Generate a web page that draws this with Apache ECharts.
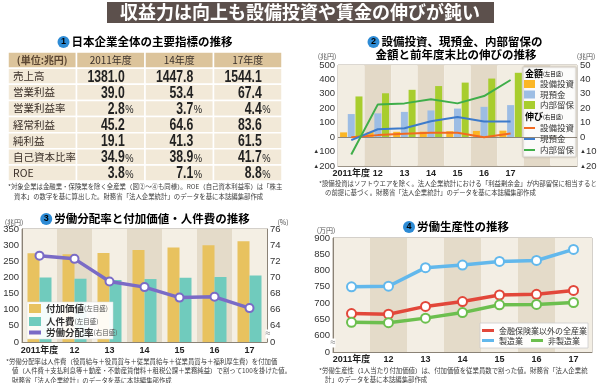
<!DOCTYPE html>
<html><head><meta charset="utf-8">
<script src="https://cdn.jsdelivr.net/npm/echarts@6/dist/echarts.min.js"></script>
<style>html,body{margin:0;padding:0;background:#fff}#c{width:600px;height:383px}</style>
</head><body><div id="c"></div><script>
const JP = "'Noto Sans CJK JP', sans-serif";
const NUM = "'Liberation Sans','Noto Sans CJK JP',sans-serif";

// ---- Table (chart 1) ----
const tableHeader = ['(単位:兆円)', '2011年度', '14年度', '17年度'];
const tableRows = ['売上高', '営業利益', '営業利益率', '経常利益', '純利益', '自己資本比率', 'ROE'];
const fy2011 = [1381.0, 39.0, 2.8, 45.2, 19.1, 34.9, 3.8];
const fy2014 = [1447.8, 53.4, 3.7, 64.6, 41.3, 38.9, 7.1];
const fy2017 = [1544.1, 67.4, 4.4, 83.6, 61.5, 41.7, 8.8];
const rowUnits = ['', '', '%', '', '', '%', '%'];

// ---- Chart 2 ----
const years2 = ['2011年度', '12', '13', '14', '15', '16', '17', '', ''];
const capexAmt = [33, 35, 37, 38, 41, 43, 45];
const cashAmt = [160, 165, 175, 185, 198, 210, 222];
const retainedAmt = [282, 304, 328, 354, 378, 406, 446];
const capexGrowth = [0, 1.4, 2.3, 3.0, 3.0, 0.0, 2.6];
const cashGrowth = [-2.1, 5.5, 6.2, 11.0, 13.9, 10.9, 10.9];
const retainedGrowth = [-12.0, 22.7, 23.4, 26.2, 23.4, 28.5, 39.6];

// ---- Chart 3 ----
const years = ['2011年度', '12', '13', '14', '15', '16', '17'];
const valueAdded = [275, 272, 276, 285, 293, 300, 312];
const laborCost = [200, 196, 192, 195, 199, 201, 206];
const laborShare = [72.7, 72.3, 69.5, 68.8, 67.5, 67.6, 66.2];

// ---- Chart 4 ----
const allIndustry = [668, 666, 690, 705, 725, 727, 739];
const manufacturing = [750, 752, 809, 817, 828, 831, 865];
const nonManufacturing = [641, 640, 654, 671, 695, 696, 702];

const notes1 = ['*対象企業は金融業・保険業を除く全産業（図②〜④も同様）。ROE（自己資本利益率）は「株主', '資本」の数字を基に算出した。財務省「法人企業統計」のデータを基に本誌編集部作成'];
const notes2 = ['*設備投資はソフトウエアを除く。法人企業統計における「利益剰余金」が内部留保に相当すると', 'の前提に基づく。財務省「法人企業統計」のデータを基に本誌編集部作成'];
const notes3 = ['*労働分配率は人件費（役員給与＋役員賞与＋従業員給与＋従業員賞与＋福利厚生費）を付加価', '値（人件費＋支払利息等＋動産・不動産賃借料＋租税公課＋業務純益）で割って100を掛けた値。', '財務省「法人企業統計」のデータを基に本誌編集部作成'];
const notes4 = ['*労働生産性（1人当たり付加価値）は、付加価値を従業員数で割った値。財務省「法人企業統', '計」のデータを基に本誌編集部作成'];

const C = {
  bOrange: '#fbb625', bBlue: '#9dbde4', bGreen: '#a8cd2e',
  lOrange: '#f26a21', lBlue: '#3d7bcb', lGreen: '#3fae49',
  gold: '#e8c25f', teal: '#70cbbd', purple: '#7a6bc6',
  red: '#e2473a', sky: '#62b8ec', green4: '#6cbf4e'
};

const chart = echarts.init(document.getElementById('c'), null, {renderer: 'canvas', width: 600, height: 383});

const cells = [];
for (let r = 0; r <= tableRows.length; r++) for (let c = 0; c < tableHeader.length; c++) cells.push([c, r]);

function renderCell(params, api) {
  const c = api.value(0), r = api.value(1);
  const p = api.coord([c, r]);
  const s = api.size([1, 1]);
  const x0 = p[0] - s[0] / 2, y0 = p[1] - s[1] / 2;
  const children = [{
    type: 'rect', shape: {x: x0, y: y0, width: s[0], height: s[1]},
    style: {fill: r === 0 ? '#dcc49b' : '#f2e9d8', stroke: '#fff', lineWidth: 1.5}
  }];
  function txt(text, x, y, align, font, fill, sx) {
    return {type: 'text', x, y, scaleX: sx || 1, style: {text, x: 0, y: 0, align, textAlign: align, verticalAlign: 'middle', textVerticalAlign: 'middle', font, fill}};
  }
  if (r === 0) {
    children.push(txt(tableHeader[c], p[0], p[1], 'center', (c === 0 ? 'bold ' : '') + '10px ' + JP, c === 0 ? '#5b4632' : '#3a302a'));
  } else if (c === 0) {
    children.push(txt(tableRows[r - 1], x0 + 5, p[1], 'left', '10.5px ' + JP, '#3a2f28'));
  } else {
    const v = [fy2011, fy2014, fy2017][c - 1][r - 1];
    const unit = rowUnits[r - 1];
    const xr = p[0] + 14;
    children.push(txt(v.toFixed(1), xr, p[1] + 1, 'right', 'bold 16.5px ' + NUM, '#222', 0.74));
    if (unit) children.push(txt(unit, xr + 0.5, p[1] + 2, 'left', '11px ' + NUM, '#222', 0.85));
  }
  return {type: 'group', children};
}

function titleEl(n, text, x, y) {
  return {type: 'text', x, y, z: 10, style: {
    text: (n ? '{n|' + n + '}{s| }' : '') + '{t|' + text + '}',
    align: 'center', textAlign: 'center', verticalAlign: 'middle', textVerticalAlign: 'middle',
    rich: {
      n: {backgroundColor: '#2d8bd5', borderRadius: 6, width: 12, height: 12, lineHeight: 12, align: 'center', color: '#fff', fontSize: 9, fontWeight: 'bold', fontFamily: NUM},
      s: {fontSize: 4, width: 2},
      t: {fontSize: 11.5, fontWeight: 'bold', color: '#3a2e2a', fontFamily: JP}
    }
  }};
}
function noteEls(lines, x, y, lh) {
  return lines.map((l, i) => ({type: 'text', x: i === 0 ? x : x + 6, y: y + i * lh, style: {text: l, font: '6.4px ' + JP, fill: '#3a3a3a', verticalAlign: 'middle', textVerticalAlign: 'middle'}}));
}
function smallText(t, x, y, align) {
  return {type: 'text', x, y, style: {text: t, font: '7px ' + JP, fill: '#555', align: align || 'center', textAlign: align || 'center', verticalAlign: 'middle', textVerticalAlign: 'middle'}};
}
const neg = (v) => v < 0 ? '{t|▲}' + (-v) : '' + v;
const axLbl = {fontSize: 9.5, color: '#333', fontFamily: NUM};
const xLbl = {fontSize: 9, color: '#222', fontFamily: NUM, fontWeight: 'bold', interval: 0};

const hdrRich = {a: {fontSize: 9, fontWeight: 'bold', fontFamily: JP, color: '#333'}, b: {fontSize: 5.5, fontFamily: JP, color: '#666'}};

const graphics = [
  {type: 'rect', shape: {x: 107, y: 2, width: 387, height: 21}, style: {fill: '#5c504c'}},
  {type: 'text', x: 300, y: 12.5, style: {text: '収益力は向上も設備投資や賃金の伸びが鈍い', font: 'bold 18px ' + JP, fill: '#fff', align: 'center', textAlign: 'center', verticalAlign: 'middle', textVerticalAlign: 'middle'}},
  titleEl('1', '日本企業全体の主要指標の推移', 145, 42),
  titleEl('2', '設備投資、現預金、内部留保の', 455, 42),
  titleEl(null, '金額と前年度末比の伸びの推移', 456, 55),
  titleEl('3', '労働分配率と付加価値・人件費の推移', 145, 219),
  titleEl('4', '労働生産性の推移', 456, 227),
  smallText('(兆円)', 327, 56), smallText('(兆円)', 586, 56),
  smallText('(兆円)', 14, 222), smallText('(%)', 283, 222),
  smallText('(万円)', 326, 230),
  ...noteEls(notes1, 8, 187, 9.5),
  ...noteEls(notes2, 319, 183.5, 9.5),
  ...noteEls(notes3, 6, 361.5, 9.3),
  ...noteEls(notes4, 319, 371, 9),
  // legend boxes
  {type: 'rect', z: 3, shape: {x: 523, y: 67, width: 53, height: 90}, style: {fill: 'rgba(255,255,255,0.93)', stroke: '#d6d0c6', lineWidth: 1, shadowBlur: 2, shadowColor: 'rgba(0,0,0,0.15)'}},
  {type: 'text', z: 5, x: 525, y: 73.5, style: {text: '{a|金額}{b|(左目盛)}', rich: hdrRich, verticalAlign: 'middle', textVerticalAlign: 'middle'}},
  {type: 'text', z: 5, x: 525, y: 117, style: {text: '{a|伸び}{b|(右目盛)}', rich: hdrRich, verticalAlign: 'middle', textVerticalAlign: 'middle'}},
  {type: 'rect', z: 3, shape: {x: 27, y: 302, width: 86, height: 37}, style: {fill: 'rgba(255,255,255,0.93)', stroke: '#ddd', lineWidth: 0.5}},
  {type: 'rect', z: 3, shape: {x: 480, y: 323, width: 108, height: 25}, style: {fill: 'rgba(255,255,255,0.93)', stroke: '#ccc', lineWidth: 0.8}},
  // axis break marks
  {type: 'text', z: 10, x: 268, y: 334, style: {text: '≈', font: '9px ' + NUM, fill: '#777', align: 'center', textAlign: 'center', verticalAlign: 'middle', textVerticalAlign: 'middle', backgroundColor: '#fff'}},
  {type: 'text', z: 10, x: 333, y: 343, style: {text: '≈', font: '9px ' + NUM, fill: '#777', align: 'center', textAlign: 'center', verticalAlign: 'middle', textVerticalAlign: 'middle', backgroundColor: '#fff'}}
];

const legendRich = {a: {fontSize: 9.5, fontWeight: 'bold', fontFamily: JP, color: '#333'}, b: {fontSize: 6.5, fontFamily: JP, color: '#555'}};
const axisNote = {'付加価値': '(左目盛)', '人件費': '(左目盛)', '労働分配率': '(右目盛)'};

const option = {
  animation: false,
  backgroundColor: '#fff',
  graphic: {elements: graphics},
  grid: [
    {left: 8, top: 52, width: 274, height: 129},
    {left: 338, top: 65, width: 239, height: 101, show: true, borderColor: '#b9b1a4', borderWidth: 1, backgroundColor: 'transparent'},
    {left: 22, top: 229, width: 245, height: 113, show: true, borderColor: '#a9a195', borderWidth: 1},
    {left: 333, top: 238, width: 259, height: 114, show: true, borderColor: '#a9a195', borderWidth: 1}
  ],
  xAxis: [
    {gridIndex: 0, type: 'category', data: tableHeader, show: false},
    {gridIndex: 1, type: 'category', data: years2, axisTick: {show: false}, axisLine: {onZero: false, lineStyle: {color: '#9a9286'}}, axisLabel: Object.assign({margin: 3}, xLbl), splitArea: {show: true, areaStyle: {color: ['#f2ede2', '#e3d9c7']}}},
    {gridIndex: 2, type: 'category', data: years, axisTick: {show: false}, axisLine: {lineStyle: {color: '#8a8276'}}, axisLabel: Object.assign({margin: 4}, xLbl), splitArea: {show: true, areaStyle: {color: ['#f4efe4', '#e4dbc9']}}},
    {gridIndex: 3, type: 'category', data: years, axisTick: {show: false}, axisLine: {lineStyle: {color: '#8a8276'}}, axisLabel: Object.assign({margin: 3}, xLbl), splitArea: {show: true, areaStyle: {color: ['#f3eee4', '#e4dbc9']}}}
  ],
  yAxis: [
    {gridIndex: 0, type: 'category', data: ['header'].concat(tableRows), inverse: true, show: false},
    {gridIndex: 1, type: 'value', min: -200, max: 500, interval: 100, splitLine: {show: false}, axisLine: {show: false}, axisTick: {show: false}, axisLabel: Object.assign({margin: 3, formatter: neg, rich: {t: {fontSize: 6, color: '#333'}}}, axLbl)},
    {gridIndex: 1, type: 'value', position: 'right', min: -20, max: 50, interval: 10, splitLine: {show: false}, axisLine: {show: false}, axisTick: {show: false}, axisLabel: Object.assign({margin: 3, formatter: neg, rich: {t: {fontSize: 6, color: '#333'}}}, axLbl)},
    {gridIndex: 2, type: 'value', min: 0, max: 350, interval: 50, splitLine: {lineStyle: {color: '#c6bead'}}, axisLine: {show: true, lineStyle: {color: '#8a8276'}}, axisTick: {show: false}, axisLabel: Object.assign({margin: 3}, axLbl)},
    {gridIndex: 2, type: 'value', position: 'right', min: 62, max: 76, interval: 2, splitLine: {show: false}, axisLine: {show: true, lineStyle: {color: '#8a8276'}}, axisTick: {show: false}, axisLabel: Object.assign({margin: 3, formatter: (v) => v === 62 ? '0' : '' + v}, axLbl)},
    {gridIndex: 3, type: 'value', min: 550, max: 900, interval: 50, splitLine: {lineStyle: {color: '#c6bead'}}, axisLine: {show: true, lineStyle: {color: '#8a8276'}}, axisTick: {show: false}, axisLabel: Object.assign({margin: 3, formatter: (v) => v === 550 ? '0' : '' + v}, axLbl)}
  ],
  legend: [
    {left: 524, top: 79, orient: 'vertical', itemWidth: 11, itemHeight: 8, itemGap: 0.5, padding: 0, icon: 'rect', z: 6,
      data: ['設備投資', '現預金', '内部留保'], textStyle: {fontSize: 8.5, lineHeight: 10, fontFamily: JP, color: '#333'}},
    {left: 524, top: 123, orient: 'vertical', itemWidth: 11, itemHeight: 2, itemGap: 1, padding: 0, icon: 'rect', z: 6,
      data: ['設備投資(伸び)', '現預金(伸び)', '内部留保(伸び)'], formatter: (n) => n.replace('(伸び)', ''), textStyle: {fontSize: 8.5, lineHeight: 10, fontFamily: JP, color: '#333'}},
    {left: 29, top: 303, orient: 'vertical', itemWidth: 12, itemHeight: 9, itemGap: 2, padding: 0, icon: 'rect', z: 6,
      data: ['付加価値', '人件費'], formatter: (n) => '{a|' + n + '}{b|' + axisNote[n] + '}', textStyle: {lineHeight: 11, rich: legendRich}},
    {left: 29, top: 327, orient: 'vertical', itemWidth: 12, itemHeight: 4, padding: 0, icon: 'rect', z: 6,
      data: ['労働分配率'], formatter: (n) => '{a|' + n + '}{b|' + axisNote[n] + '}', textStyle: {lineHeight: 11, rich: legendRich}},
    {left: 482, top: 326, orient: 'horizontal', itemWidth: 12, itemHeight: 3, padding: 0, icon: 'rect', z: 6,
      data: ['金融保険業以外の全産業'], textStyle: {fontSize: 8, lineHeight: 9, fontFamily: JP, color: '#333'}},
    {left: 482, top: 336, orient: 'horizontal', itemWidth: 12, itemHeight: 3, itemGap: 8, padding: 0, icon: 'rect', z: 6,
      data: ['製造業', '非製造業'], textStyle: {fontSize: 8, lineHeight: 9, fontFamily: JP, color: '#333'}}
  ],
  series: [
    {type: 'custom', xAxisIndex: 0, yAxisIndex: 0, data: cells, renderItem: renderCell, encode: {x: 0, y: 1}, silent: true},
    // chart 2 bars
    {name: '設備投資', type: 'bar', xAxisIndex: 1, yAxisIndex: 1, data: capexAmt, barWidth: 7, barGap: '10%', itemStyle: {color: C.bOrange},
      markLine: {silent: true, symbol: 'none', label: {show: false}, lineStyle: {color: '#8d857a', width: 1, type: 'solid'}, data: [{yAxis: 0}]}},
    {name: '現預金', type: 'bar', xAxisIndex: 1, yAxisIndex: 1, data: cashAmt, barWidth: 7, barGap: '10%', itemStyle: {color: C.bBlue}},
    {name: '内部留保', type: 'bar', xAxisIndex: 1, yAxisIndex: 1, data: retainedAmt, barWidth: 7, barGap: '10%', itemStyle: {color: C.bGreen}},
    // chart 2 lines
    {name: '設備投資(伸び)', type: 'line', xAxisIndex: 1, yAxisIndex: 2, data: capexGrowth, symbol: 'none', z: 5, itemStyle: {color: C.lOrange}, lineStyle: {width: 2, color: C.lOrange}},
    {name: '現預金(伸び)', type: 'line', xAxisIndex: 1, yAxisIndex: 2, data: cashGrowth, symbol: 'none', z: 5, itemStyle: {color: C.lBlue}, lineStyle: {width: 2, color: C.lBlue}},
    {name: '内部留保(伸び)', type: 'line', xAxisIndex: 1, yAxisIndex: 2, data: retainedGrowth, symbol: 'none', z: 5, itemStyle: {color: C.lGreen}, lineStyle: {width: 2, color: C.lGreen}},
    // chart 3
    {name: '付加価値', type: 'bar', xAxisIndex: 2, yAxisIndex: 3, data: valueAdded, barWidth: 12, barGap: '0%', itemStyle: {color: C.gold}},
    {name: '人件費', type: 'bar', xAxisIndex: 2, yAxisIndex: 3, data: laborCost, barWidth: 12, barGap: '0%', itemStyle: {color: C.teal}},
    {name: '労働分配率', type: 'line', xAxisIndex: 2, yAxisIndex: 4, data: laborShare, symbol: 'emptyCircle', symbolSize: 8, z: 5, itemStyle: {color: C.purple, borderWidth: 2}, lineStyle: {width: 3.5, color: C.purple}},
    // chart 4
    {name: '製造業', type: 'line', xAxisIndex: 3, yAxisIndex: 5, data: manufacturing, symbol: 'emptyCircle', symbolSize: 9, itemStyle: {color: C.sky, borderWidth: 2}, lineStyle: {width: 3.5, color: C.sky}},
    {name: '金融保険業以外の全産業', type: 'line', xAxisIndex: 3, yAxisIndex: 5, data: allIndustry, symbol: 'emptyCircle', symbolSize: 9, itemStyle: {color: C.red, borderWidth: 2}, lineStyle: {width: 3.5, color: C.red}},
    {name: '非製造業', type: 'line', xAxisIndex: 3, yAxisIndex: 5, data: nonManufacturing, symbol: 'emptyCircle', symbolSize: 9, itemStyle: {color: C.green4, borderWidth: 2}, lineStyle: {width: 3.5, color: C.green4}}
  ]
};
chart.setOption(option);
</script></body></html>
